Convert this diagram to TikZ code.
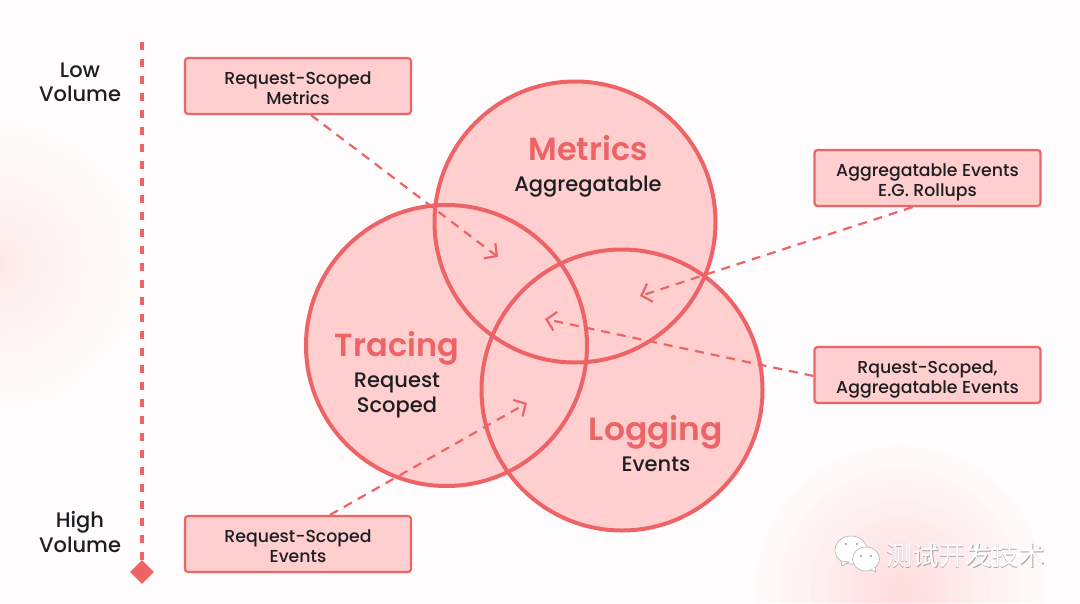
\documentclass[tikz,border=0pt]{standalone}
\usepackage{fontspec}
\setmainfont{Poppins Medium}[BoldFont=Poppins SemiBold]
\newfontfamily\cjk{Noto Sans CJK SC}
\usepackage{tikz}
\usetikzlibrary{positioning, arrows.meta, shapes.geometric}
\definecolor{coral}{HTML}{EE6466}
\definecolor{blush}{HTML}{FFCFCF}
\definecolor{paper}{HTML}{FEFCFC}
\definecolor{inkdark}{HTML}{1E1E22}
\tikzset{lobefill/.style={circle, minimum size=281pt, inner sep=0, fill=blush}}
\tikzset{lobe/.style={circle, minimum size=281pt, inner sep=0, draw=coral, line width=4pt}}
\tikzset{tagbox/.style={draw=coral, fill=blush, line width=2.2pt, rounded corners=3pt, minimum width=226pt, minimum height=56pt, inner sep=0, align=center, text=inkdark, text height=36pt, text depth=0pt, font=\fontsize{17.3}{20}\selectfont}}
\tikzset{arr/.style={draw=coral, line width=2.2pt, dash pattern=on 9pt off 7pt, -{Straight Barb[length=9pt, width=19pt, line width=2.2pt]}}}
\tikzset{headline/.style={text=coral, font=\fontsize{32}{34}\selectfont\bfseries}}
\tikzset{subline/.style={text=inkdark, align=center, font=\fontsize{21}{25}\selectfont}}
\tikzset{sideline/.style={text=inkdark, align=center, font=\fontsize{21}{24.5}\selectfont}}
\begin{document}
\begin{tikzpicture}[x=1pt, y=-1pt]
	\useasboundingbox (0,0) rectangle (1080,603);
	\clip (0,0) rectangle (1080,603);
	\fill[paper] (0,0) rectangle (1080,603);
	% soft background patches
	\foreach \i in {3,3.5,...,12}{
		\fill[red!60!white, fill opacity=.005] (-5,265) circle ({\i*\i*1pt});
		\fill[red!60!white, fill opacity=.009] (900,590) circle ({\i*\i*1pt});
	}

	% the three lobes: fills first, outlines over them
	\node[lobefill] (metricsfill) at (575,222) {};
	\node[lobefill] (tracingfill) at (446.5,345.5) {};
	\node[lobefill] (loggingfill) at (622,390) {};
	\node[lobe] (metrics) at (575,222) {};
	\node[lobe] (tracing) at (446.5,345.5) {};
	\node[lobe] (logging) at (622,390) {};

	\node[headline] (metricsname) at (588,148) {Metrics};
	\node[subline, below=8pt of metricsname] (metricssub) {Aggregatable};
	\node[headline] (tracingname) at (397,348) {Tracing};
	\node[subline, below=1pt of tracingname] (tracingsub) {Request\\Scoped};
	\node[headline] (loggingname) at (656,432) {\scalebox{1.03}[1]{Logging}};
	\node[subline, below=1pt of loggingname] (loggingsub) {Events};

	% volume axis
	\node[diamond, fill=coral, minimum size=24pt, inner sep=0] (axisend) at (142,572) {};
	\coordinate (axistop) at (142,42);
	\draw[coral, line width=4pt, dash pattern=on 7.5pt off 9.5pt] (axistop) -- (axisend.north);
	\node[sideline] (low) at (80,82.5) {Low\\Volume};
	\node[sideline] (high) at (80,532) {High\\Volume};

	% callouts
	\node[tagbox] (reqmetrics) at (298,86) {Request-Scoped\\Metrics};
	\node[tagbox] (aggevents) at (927.5,178) {Aggregatable Events\\E.G. Rollups};
	\node[tagbox] (reqagg) at (927.5,375) {Rquest-Scoped,\\Aggregatable Events};
	\node[tagbox] (reqevents) at (298,544) {Request-Scoped\\Events};

	\coordinate (tipa) at (498,257);
	\coordinate (tipb) at (640,296);
	\coordinate (tipc) at (545,319);
	\coordinate (tipd) at (527,403);
	\draw[arr] ([xshift=13pt]reqmetrics.south) -- (tipa);
	\draw[arr] ([xshift=-15pt]aggevents.south) -- (tipb);
	\draw[arr] ([yshift=-1pt]reqagg.west) -- (tipc);
	\draw[arr] ([xshift=32pt]reqevents.north) -- (tipd);

	% watermark
	\filldraw[draw=black!30, fill=white, line width=.6pt] (851,550) ellipse (16pt and 14pt);
	\filldraw[draw=black!30, fill=white, line width=.6pt] (841,561) -- (842,566) -- (849,562) -- cycle;
	\filldraw[draw=black!30, fill=white, line width=.6pt] (866,559) ellipse (13.5pt and 12pt);
	\filldraw[draw=black!30, fill=white, line width=.6pt] (870,569) -- (876,572) -- (875,567) -- cycle;
	\fill[white] (866,559) ellipse (12.5pt and 11pt);
	\fill[black!40] (846,544) circle (1.2pt) (857,544) circle (1.2pt) (861,556) circle (1.2pt) (871,556) circle (1.2pt);
	\node[text=black!35, font=\cjk\fontsize{26.5}{30}\selectfont, inner sep=0] (markshadow) at (966.3,556.3) {测试开发技术};
	\node[text=white, font=\cjk\fontsize{26.5}{30}\selectfont, inner sep=0] (marktext) at (965.5,555.5) {测试开发技术};
\end{tikzpicture}
\end{document}
